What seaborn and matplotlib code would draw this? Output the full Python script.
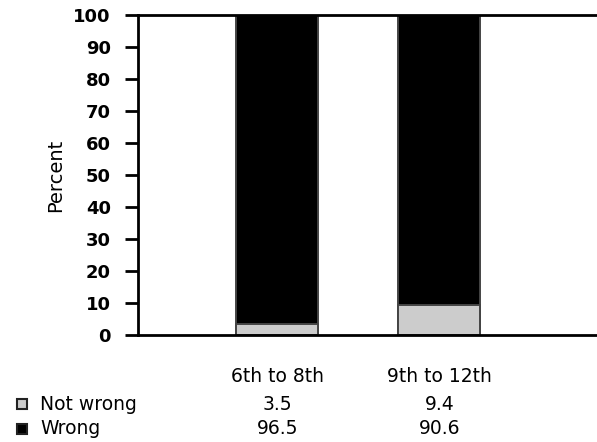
import numpy as np
import pandas as pd
import matplotlib
matplotlib.use("Agg")
import matplotlib.pyplot as plt
import matplotlib.transforms as mtransforms
from matplotlib.patches import Rectangle
import seaborn as sns

# data
grades = ["6th to 8th", "9th to 12th"]
not_wrong = [3.5, 9.4]
wrong = [96.5, 90.6]
series_names = ["Not wrong", "Wrong"]
series_colors = ["#cccccc", "#000000"]

df = pd.DataFrame({"grade": grades, "not_wrong": not_wrong, "wrong": wrong})
df["total"] = df["not_wrong"] + df["wrong"]

sns.set_style("white")
plt.rcParams["font.family"] = ["DejaVu Sans"]
plt.rcParams["text.color"] = "black"
plt.rcParams["axes.labelcolor"] = "black"
plt.rcParams["ytick.color"] = "black"

fig = plt.figure(figsize=(5.97, 4.42), dpi=100)
ax = fig.add_axes([138 / 597, 1 - 335 / 442, (597 - 138) / 597, (335 - 15) / 442])

# stacked bars: total in black, lower segment in grey drawn on top
sns.barplot(data=df, x="grade", y="total", color=series_colors[1], width=0.506,
            edgecolor="#444444", linewidth=1.4, ax=ax, saturation=1)
sns.barplot(data=df, x="grade", y="not_wrong", color=series_colors[0], width=0.506,
            edgecolor="#444444", linewidth=1.4, ax=ax, saturation=1)

ax.set_xlim(-0.858, 1.972)
ax.set_ylim(0, 100)
ax.set_yticks(np.arange(0, 101, 10))
ax.set_xticks([])
ax.set_xlabel("")
ax.set_ylabel("Percent", fontsize=14, labelpad=6)
for lbl in ax.get_yticklabels():
    lbl.set_fontweight("bold")
    lbl.set_fontsize(13)
ax.tick_params(axis="y", length=9.5, width=2, direction="out", left=True, pad=10,
               color="black", labelcolor="black")

for side in ["left", "top", "bottom"]:
    ax.spines[side].set_visible(True)
    ax.spines[side].set_color("black")
    ax.spines[side].set_linewidth(2)
ax.spines["right"].set_visible(False)

# data table under the plot
trans = mtransforms.blended_transform_factory(ax.transData, fig.transFigure)
y_head = 1 - 377 / 442
y_rows = [1 - 404 / 442, 1 - 429 / 442]
for i, g in enumerate(grades):
    ax.text(i, y_head, g, transform=trans, ha="center", va="center", fontsize=13.5)
rows = [not_wrong, wrong]
for r, (name, col, vals) in enumerate(zip(series_names, series_colors, rows)):
    fig.patches.append(Rectangle((17 / 597, y_rows[r] - 5 / 442), 10 / 597, 10 / 442,
                                 transform=fig.transFigure, facecolor=col,
                                 edgecolor="#222222", linewidth=1.5))
    fig.text(40 / 597, y_rows[r], name, ha="left", va="center", fontsize=13.5)
    for i, v in enumerate(vals):
        ax.text(i, y_rows[r], f"{v:.1f}", transform=trans, ha="center", va="center",
                fontsize=13.5)

fig.savefig("out.png", dpi=100)
